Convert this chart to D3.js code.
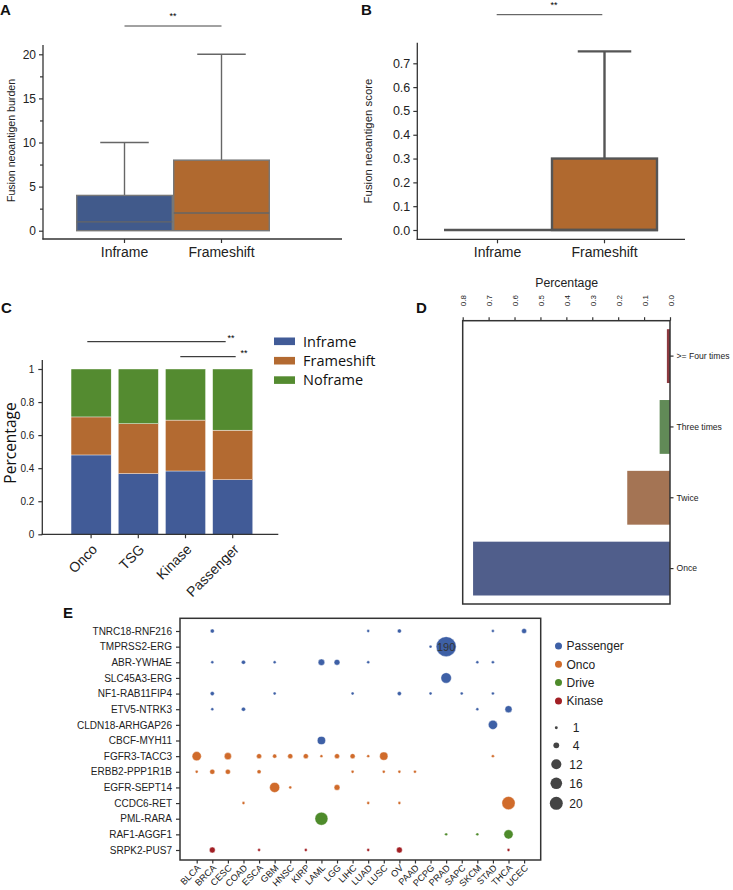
<!DOCTYPE html>
<html><head><meta charset="utf-8">
<script src="https://cdn.jsdelivr.net/npm/d3@7"></script>
<style>
html,body{margin:0;padding:0;background:#fff;}
svg{display:block;font-family:"Liberation Sans",Arial,sans-serif;}
</style></head>
<body><svg id="fig" width="733" height="890"></svg>
<script>
// ---------------- DATA ----------------
const boxCats = ["Inframe", "Frameshift"];
// [min, q1, median, q3, max]
const burdenStats = [[0, 0, 1, 4, 10], [0, 0, 2, 8, 20]];
const scoreStats = [[0, 0, 0, 0, 0], [0, 0, 0, 0.3, 0.75]];
const burdenTicks = [0, 5, 10, 15, 20];
const scoreTicks = [0, 0.1, 0.2, 0.3, 0.4, 0.5, 0.6, 0.7];

const groupCats = ["Onco", "TSG", "Kinase", "Passenger"];
const frameKeys = ["Inframe", "Frameshift", "Noframe"];
const inframePct = [0.48, 0.367, 0.383, 0.33];
const frameshiftPct = [0.23, 0.302, 0.308, 0.30];
const noframePct = [0.29, 0.331, 0.309, 0.37];
const pctTicks = [0, 0.2, 0.4, 0.6, 0.8, 1];

const recurCats = [">= Four times", "Three times", "Twice", "Once"];
const recurPct = [0.012, 0.04, 0.165, 0.76];
const recurTicks = [0, 0.1, 0.2, 0.3, 0.4, 0.5, 0.6, 0.7, 0.8];

const cancerTypes = ["BLCA","BRCA","CESC","COAD","ESCA","GBM","HNSC","KIRP","LAML","LGG","LIHC","LUAD","LUSC","OV","PAAD","PCPG","PRAD","SAPC","SKCM","STAD","THCA","UCEC"];
const fusions = ["TNRC18-RNF216","TMPRSS2-ERG","ABR-YWHAE","SLC45A3-ERG","NF1-RAB11FIP4","ETV5-NTRK3","CLDN18-ARHGAP26","CBCF-MYH11","FGFR3-TACC3","ERBB2-PPP1R1B","EGFR-SEPT14","CCDC6-RET","PML-RARA","RAF1-AGGF1","SRPK2-PUS7"];
const fusionClass = ["Passenger","Passenger","Passenger","Passenger","Passenger","Passenger","Passenger","Passenger","Onco","Onco","Onco","Onco","Drive","Drive","Kinase"];
const classNames = ["Passenger","Onco","Drive","Kinase"];
const sizeLegend = [1, 4, 12, 16, 20];
// [fusion, cancer type, count]
const fusionCounts = [
  ["TNRC18-RNF216","BRCA",2],["TNRC18-RNF216","LUAD",1],["TNRC18-RNF216","OV",2],["TNRC18-RNF216","STAD",1],["TNRC18-RNF216","UCEC",3],
  ["TMPRSS2-ERG","PCPG",1],["TMPRSS2-ERG","PRAD",190],
  ["ABR-YWHAE","BRCA",1],["ABR-YWHAE","COAD",2],["ABR-YWHAE","GBM",1],["ABR-YWHAE","LAML",5],["ABR-YWHAE","LGG",4],["ABR-YWHAE","LUAD",1],["ABR-YWHAE","SKCM",1],["ABR-YWHAE","STAD",1],
  ["SLC45A3-ERG","PRAD",13],
  ["NF1-RAB11FIP4","BRCA",2],["NF1-RAB11FIP4","GBM",1],["NF1-RAB11FIP4","LIHC",1],["NF1-RAB11FIP4","OV",2],["NF1-RAB11FIP4","PCPG",1],["NF1-RAB11FIP4","SAPC",1],["NF1-RAB11FIP4","STAD",1],
  ["ETV5-NTRK3","BRCA",1],["ETV5-NTRK3","COAD",2],["ETV5-NTRK3","SKCM",1],["ETV5-NTRK3","THCA",6],
  ["CLDN18-ARHGAP26","STAD",10],
  ["CBCF-MYH11","LAML",8],
  ["FGFR3-TACC3","BLCA",10],["FGFR3-TACC3","CESC",6],["FGFR3-TACC3","ESCA",3],["FGFR3-TACC3","GBM",2],["FGFR3-TACC3","HNSC",3],["FGFR3-TACC3","KIRP",3],["FGFR3-TACC3","LAML",1],["FGFR3-TACC3","LGG",3],["FGFR3-TACC3","LIHC",3],["FGFR3-TACC3","LUAD",1],["FGFR3-TACC3","LUSC",8],["FGFR3-TACC3","STAD",1],
  ["ERBB2-PPP1R1B","BLCA",1],["ERBB2-PPP1R1B","BRCA",3],["ERBB2-PPP1R1B","CESC",3],["ERBB2-PPP1R1B","ESCA",2],["ERBB2-PPP1R1B","LIHC",1],["ERBB2-PPP1R1B","LUSC",1],["ERBB2-PPP1R1B","OV",1],["ERBB2-PPP1R1B","PAAD",1],
  ["EGFR-SEPT14","GBM",12],["EGFR-SEPT14","HNSC",1],["EGFR-SEPT14","LGG",4],
  ["CCDC6-RET","COAD",1],["CCDC6-RET","LUAD",1],["CCDC6-RET","OV",1],["CCDC6-RET","THCA",23],
  ["PML-RARA","LAML",20],
  ["RAF1-AGGF1","PRAD",1],["RAF1-AGGF1","SKCM",1],["RAF1-AGGF1","THCA",10],
  ["SRPK2-PUS7","BRCA",4],["SRPK2-PUS7","ESCA",1],["SRPK2-PUS7","KIRP",1],["SRPK2-PUS7","LUAD",1],["SRPK2-PUS7","OV",4],["SRPK2-PUS7","THCA",1]
];

// ---------------- STYLE ----------------
const boxColor = {Inframe:"#415a8b", Frameshift:"#b0692f"};
const stackColor = {Inframe:"#415b97", Frameshift:"#b36a31", Noframe:"#548b30"};
const recurColor = {">= Four times":"#8c3a40","Three times":"#618a57","Twice":"#a47454","Once":"#505e8b"};
const classColor = {Passenger:"#3e60a6", Onco:"#d06b2b", Drive:"#4e8b2b", Kinase:"#a21f24"};
const AX = "#333";

const svg = d3.select("#fig");

function panelLabel(t, x, y){
  svg.append("text").attr("x",x).attr("y",y).attr("font-size",15).attr("font-weight","bold").attr("fill","#111").text(t);
}
function hline(x1,x2,y,w,c){ svg.append("line").attr("x1",x1).attr("x2",x2).attr("y1",y).attr("y2",y).attr("stroke",c||AX).attr("stroke-width",w||1.3); }
function vline(x,y1,y2,w,c){ svg.append("line").attr("x1",x).attr("x2",x).attr("y1",y1).attr("y2",y2).attr("stroke",c||AX).attr("stroke-width",w||1.3); }
function styleAxis(g, fs){
  g.select(".domain").remove();
  g.selectAll(".tick line").attr("stroke",AX).attr("stroke-width",1.2);
  g.selectAll(".tick text").attr("fill","#222").attr("font-size",fs).attr("font-family","'Liberation Sans',Arial,sans-serif");
}

// ---------------- PANEL A ----------------
panelLabel("A", 0, 15);
{
  const y = d3.scaleLinear([0,20],[230.7,54.3]);
  const x = d3.scaleBand(boxCats,[76,270]).padding(0);
  const bw = x.bandwidth();
  hline(x("Inframe")+bw/2, x("Frameshift")+bw/2, 26, 1, "#444");
  svg.append("text").attr("x",(x("Inframe")+x("Frameshift"))/2+bw/2).attr("y",19).attr("text-anchor","middle").attr("font-size",9).text("**");
  boxCats.forEach((c,i)=>{
    const s = burdenStats[i], cx = x(c)+bw/2, g = svg.append("g");
    g.append("line").attr("x1",cx).attr("x2",cx).attr("y1",y(s[3])).attr("y2",y(s[4])).attr("stroke","#666").attr("stroke-width",1.4);
    g.append("line").attr("x1",cx-bw/4).attr("x2",cx+bw/4).attr("y1",y(s[4])).attr("y2",y(s[4])).attr("stroke","#666").attr("stroke-width",1.4);
    g.append("rect").attr("x",x(c)+0.7).attr("width",bw-1.4).attr("y",y(s[3])).attr("height",y(s[1])-y(s[3]))
      .attr("fill",boxColor[c]).attr("stroke","#777").attr("stroke-width",1.4);
    g.append("line").attr("x1",x(c)+0.7).attr("x2",x(c)+bw-0.7).attr("y1",y(s[2])).attr("y2",y(s[2])).attr("stroke","#666").attr("stroke-width",1.4);
  });
  const ga = svg.append("g").attr("transform","translate(43,0)").call(d3.axisLeft(y).tickValues(burdenTicks).tickSize(4).tickSizeOuter(0));
  styleAxis(ga, 12);
  const gm = svg.append("g").attr("transform","translate(43,0)").call(d3.axisLeft(y).tickValues(d3.range(2.5,20,5)).tickSize(3).tickFormat(""));
  styleAxis(gm, 12);
  const gx = svg.append("g").attr("transform","translate(0,239)").call(d3.axisBottom(x).tickSize(4).tickSizeOuter(0).tickPadding(4));
  styleAxis(gx, 14);
  vline(43, 45, 239.6); hline(42.4, 342, 239);
  svg.append("text").attr("transform","translate(15,140.5) rotate(-90)").attr("text-anchor","middle").attr("font-size",10.6).attr("fill","#222").text("Fusion neoantigen burden");
}

// ---------------- PANEL B ----------------
panelLabel("B", 361, 15);
{
  const y = d3.scaleLinear([0,0.7],[230,63.3]);
  const x = d3.scaleBand(boxCats,[444,658]).padding(0);
  const bw = x.bandwidth();
  hline(496.7, 602.3, 14.7, 1, "#444");
  svg.append("text").attr("x",554).attr("y",8).attr("text-anchor","middle").attr("font-size",9).text("**");
  boxCats.forEach((c,i)=>{
    const s = scoreStats[i], cx = x(c)+bw/2, g = svg.append("g");
    if (s[4] > s[3]) {
      g.append("line").attr("x1",cx).attr("x2",cx).attr("y1",y(s[3])).attr("y2",y(s[4])).attr("stroke","#555").attr("stroke-width",2.4);
      g.append("line").attr("x1",cx-bw/4).attr("x2",cx+bw/4).attr("y1",y(s[4])).attr("y2",y(s[4])).attr("stroke","#555").attr("stroke-width",2.4);
    }
    if (s[3] > s[1]) {
      g.append("rect").attr("x",x(c)+1).attr("width",bw-2).attr("y",y(s[3])).attr("height",y(s[1])-y(s[3]))
        .attr("fill",boxColor[c]).attr("stroke","#555").attr("stroke-width",2.4);
    }
    g.append("line").attr("x1",x(c)).attr("x2",x(c)+bw).attr("y1",y(s[2])).attr("y2",y(s[2])).attr("stroke","#555").attr("stroke-width",2.4);
  });
  const ga = svg.append("g").attr("transform","translate(417.3,0)").call(d3.axisLeft(y).tickValues(scoreTicks).tickFormat(d3.format(".1f")).tickSize(4).tickSizeOuter(0));
  styleAxis(ga, 12.5);
  const gx = svg.append("g").attr("transform","translate(0,239.3)").call(d3.axisBottom(x).tickSize(4).tickSizeOuter(0).tickPadding(4));
  styleAxis(gx, 14);
  vline(417.3, 42.7, 240); hline(416.7, 685, 239.3);
  svg.append("text").attr("transform","translate(372,141) rotate(-90)").attr("text-anchor","middle").attr("font-size",11.4).attr("fill","#222").text("Fusion neoantigen score");
}

// ---------------- PANEL C ----------------
panelLabel("C", 1, 313);
{
  const y = d3.scaleLinear([0,1],[534.3,369]);
  const x = d3.scaleBand(groupCats,[67.5,256.3]).paddingInner(0.15).paddingOuter(0.075);
  const rows = groupCats.map((g,i)=>({group:g, Inframe:inframePct[i], Frameshift:frameshiftPct[i], Noframe:noframePct[i]}));
  const series = d3.stack().keys(frameKeys)(rows);
  series.forEach(s=>{
    svg.append("g").selectAll("rect").data(s).join("rect")
      .attr("x",d=>x(d.data.group)).attr("width",x.bandwidth())
      .attr("y",d=>y(d[1])).attr("height",d=>y(d[0])-y(d[1]))
      .attr("fill",stackColor[s.key]).attr("stroke","#fff").attr("stroke-width",0.4);
  });
  const ga = svg.append("g").attr("transform","translate(42.3,0)").call(d3.axisLeft(y).tickValues(pctTicks).tickFormat(d=>d===0||d===1?String(d):d.toFixed(1)).tickSize(4).tickSizeOuter(0).tickPadding(4));
  styleAxis(ga, 10);
  const gx = svg.append("g").attr("transform","translate(0,534.3)").call(d3.axisBottom(x).tickSize(4).tickSizeOuter(0));
  styleAxis(gx, 14);
  gx.selectAll(".tick text").attr("text-anchor","end").attr("dy",null).attr("y",null)
    .attr("transform","translate(7,16) rotate(-45)");
  vline(42.3, 360, 535); hline(41.6, 278.3, 534.3);
  svg.append("text").attr("transform","translate(16,443) rotate(-90)").attr("text-anchor","middle").attr("font-size",15.5).attr("font-family","'Open Sans',sans-serif").attr("fill","#111").text("Percentage");
  hline(87.3, 225.7, 341.7, 1, "#111");
  svg.append("text").attr("x",227.5).attr("y",341).attr("font-size",9).text("**");
  hline(180.3, 235.7, 356.7, 1, "#111");
  svg.append("text").attr("x",240.5).attr("y",356).attr("font-size",9).text("**");
  frameKeys.forEach((k,i)=>{
    const ly = 341.3 + i*19.4;
    svg.append("rect").attr("x",274).attr("y",ly-3.8).attr("width",21).attr("height",7.6).attr("fill",stackColor[k]);
    svg.append("text").attr("x",303).attr("y",ly+5.2).attr("font-size",14.5).attr("font-family","'Open Sans',sans-serif").attr("fill","#111").text(k);
  });
}

// ---------------- PANEL D ----------------
panelLabel("D", 416, 313);
{
  const x = d3.scaleLinear([0,0.8],[670,462.7]);
  const y = d3.scaleBand(recurCats,[320.7,604]).paddingInner(0.24).paddingOuter(0.12);
  svg.append("g").selectAll("rect").data(recurCats).join("rect")
    .attr("x",(d,i)=>x(recurPct[i])).attr("width",(d,i)=>x(0)-x(recurPct[i]))
    .attr("y",d=>y(d)).attr("height",y.bandwidth()).attr("fill",d=>recurColor[d]);
  svg.append("rect").attr("x",462.7).attr("y",320.7).attr("width",207.3).attr("height",283.3).attr("fill","none").attr("stroke",AX).attr("stroke-width",1.5);
  const gt = svg.append("g").attr("transform","translate(0,320.7)").call(d3.axisTop(x).tickValues(recurTicks).tickFormat(d3.format(".1f")).tickSize(3.5).tickSizeOuter(0));
  styleAxis(gt, 8);
  gt.selectAll(".tick text").attr("text-anchor","start").attr("y",null).attr("dy",null)
    .attr("transform","translate(3,-14.5) rotate(-90)");
  const gr = svg.append("g").attr("transform","translate(670,0)").call(d3.axisRight(y).tickSize(3.5).tickSizeOuter(0).tickPadding(3));
  styleAxis(gr, 8.6);
  svg.append("text").attr("x",566.7).attr("y",287).attr("text-anchor","middle").attr("font-size",12.3).attr("fill","#222").text("Percentage");
}

// ---------------- PANEL E ----------------
panelLabel("E", 63, 618);
{
  const x = d3.scalePoint(cancerTypes,[196.7,524.1]);
  const y = d3.scalePoint(fusions,[631,850]);
  const r = d3.scaleSqrt().domain([0,20,190]).range([0,6.5,10]);
  const cls = Object.fromEntries(fusions.map((f,i)=>[f,fusionClass[i]]));
  svg.append("g").selectAll("circle").data(fusionCounts).join("circle")
    .attr("cx",d=>x(d[1])).attr("cy",d=>y(d[0])).attr("r",d=>r(d[2]))
    .attr("fill",d=>classColor[cls[d[0]]]).attr("stroke","#fff").attr("stroke-width",0.4);
  const big = fusionCounts.filter(d=>d[2]>50);
  svg.append("g").selectAll("text").data(big).join("text")
    .attr("x",d=>x(d[1])).attr("y",d=>y(d[0])+4).attr("text-anchor","middle").attr("font-size",11).attr("fill","#333").text(d=>d[2]);
  svg.append("rect").attr("x",180).attr("y",618.3).attr("width",360.7).attr("height",241.7).attr("fill","none").attr("stroke",AX).attr("stroke-width",1.5);
  const gy = svg.append("g").attr("transform","translate(180,0)").call(d3.axisLeft(y).tickSize(4).tickSizeOuter(0).tickPadding(4));
  styleAxis(gy, 10);
  const gx = svg.append("g").attr("transform","translate(0,860)").call(d3.axisBottom(x).tickSize(3.5).tickSizeOuter(0));
  styleAxis(gx, 9.2);
  gx.selectAll(".tick text").attr("text-anchor","end").attr("y",null).attr("dy",null)
    .attr("transform","translate(4,8.5) rotate(-45)");
  classNames.forEach((c,i)=>{
    const ly = 646 + i*18.3;
    svg.append("circle").attr("cx",558.5).attr("cy",ly).attr("r",3.5).attr("fill",classColor[c]);
    svg.append("text").attr("x",566.5).attr("y",ly+4.3).attr("font-size",12).attr("fill","#222").text(c);
  });
  const sy = [727.7,745.3,764.3,783.3,803.3];
  sizeLegend.forEach((v,i)=>{
    svg.append("circle").attr("cx",556.3).attr("cy",sy[i]).attr("r",r(v)).attr("fill","#444");
    svg.append("text").attr("x",576).attr("y",sy[i]+4.3).attr("text-anchor","middle").attr("font-size",12).attr("fill","#222").text(v);
  });
}
</script></body></html>
